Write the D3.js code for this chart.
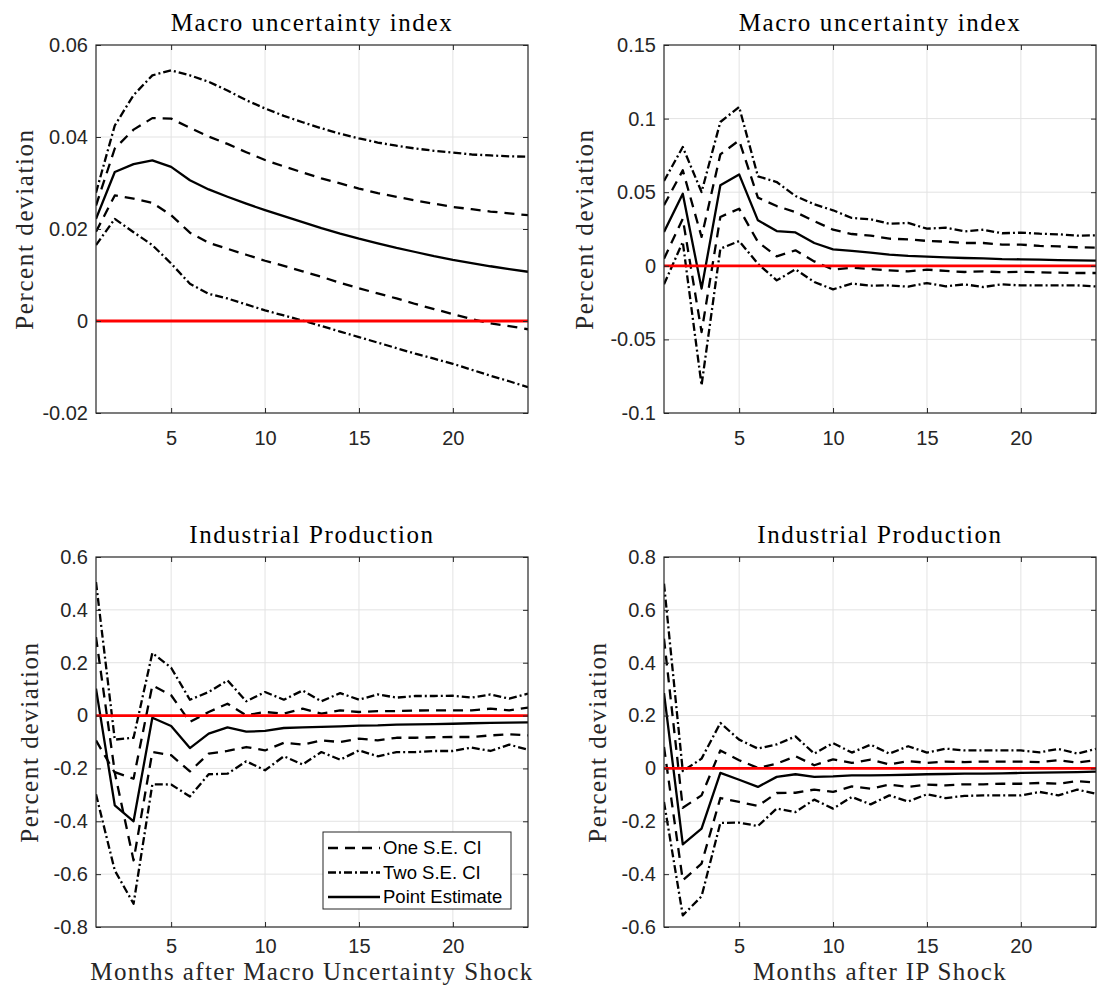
<!DOCTYPE html>
<html>
<head>
<meta charset="utf-8">
<script src="https://cdn.jsdelivr.net/npm/d3@7"></script>
<style>
  body { margin: 0; background: #fff; }
  .serif { font-family: "Liberation Serif", "Times New Roman", serif; fill: #262626; }
  .tick text { font-family: "Liberation Sans", Arial, sans-serif; font-size: 20px; fill: #262626; }
  .legend text { font-family: "Liberation Sans", Arial, sans-serif; font-size: 18.5px; fill: #000; }
</style>
</head>
<body>
<script>
var width = 1104,
    height = 990;

// months after shock
var months = [1, 2, 3, 4, 5, 6, 7, 8, 9, 10, 11, 12, 13, 14, 15, 16, 17, 18, 19, 20, 21, 22, 23, 24];
var xTicks = [5, 10, 15, 20];

// --- Macro uncertainty index, macro uncertainty shock (top left)
var muPoint  = [0.0222, 0.0324, 0.0341, 0.0349, 0.0335, 0.0306, 0.0286, 0.0270, 0.0255, 0.0241, 0.0228, 0.0215, 0.0202, 0.0190, 0.0179, 0.0169, 0.0159, 0.0150, 0.0141, 0.0133, 0.0126, 0.0119, 0.0113, 0.0107];
var muUp1    = [0.0251, 0.0375, 0.0416, 0.0441, 0.0440, 0.0420, 0.0401, 0.0385, 0.0367, 0.0350, 0.0336, 0.0323, 0.0310, 0.0299, 0.0288, 0.0278, 0.0270, 0.0262, 0.0255, 0.0248, 0.0243, 0.0238, 0.0234, 0.0230];
var muLo1    = [0.0194, 0.0273, 0.0266, 0.0257, 0.0230, 0.0192, 0.0170, 0.0157, 0.0144, 0.0131, 0.0120, 0.0108, 0.0096, 0.0083, 0.0071, 0.0060, 0.0049, 0.0037, 0.0026, 0.0015, 0.0004, -0.0005, -0.0011, -0.0018];
var muUp2    = [0.0279, 0.0425, 0.0491, 0.0534, 0.0545, 0.0534, 0.0520, 0.0501, 0.0480, 0.0462, 0.0446, 0.0432, 0.0419, 0.0407, 0.0397, 0.0388, 0.0381, 0.0375, 0.0370, 0.0366, 0.0362, 0.0360, 0.0358, 0.0357];
var muLo2    = [0.0165, 0.0222, 0.0193, 0.0165, 0.0125, 0.0081, 0.0059, 0.0049, 0.0036, 0.0023, 0.0012, 0.0001, -0.0011, -0.0023, -0.0035, -0.0047, -0.0059, -0.0071, -0.0082, -0.0093, -0.0106, -0.0119, -0.0131, -0.0144];
var muTicks  = [-0.02, 0, 0.02, 0.04, 0.06];

// --- Macro uncertainty index, IP shock (top right)
var muIpPoint = [0.023, 0.049, -0.0155, 0.0547, 0.0621, 0.0309, 0.0236, 0.0227, 0.0155, 0.0112, 0.0101, 0.0089, 0.0076, 0.0067, 0.0062, 0.0057, 0.0053, 0.0051, 0.0046, 0.0044, 0.0042, 0.0039, 0.0037, 0.0035];
var muIpUp1   = [0.0411, 0.0649, 0.0196, 0.0757, 0.0852, 0.0463, 0.0406, 0.0365, 0.0304, 0.0245, 0.0216, 0.0205, 0.0184, 0.0180, 0.0169, 0.0164, 0.0155, 0.0155, 0.0144, 0.0144, 0.0135, 0.0132, 0.0126, 0.0123];
var muIpLo1   = [0.0048, 0.032, -0.045, 0.0332, 0.0388, 0.0162, 0.0064, 0.0105, 0.003, -0.0026, -0.0013, -0.0022, -0.0031, -0.0038, -0.0026, -0.0035, -0.0042, -0.0038, -0.0044, -0.004, -0.0044, -0.0047, -0.0049, -0.0049];
var muIpUp2   = [0.0576, 0.0807, 0.0501, 0.0977, 0.1079, 0.0608, 0.0569, 0.0474, 0.0418, 0.0377, 0.0325, 0.0316, 0.0286, 0.0291, 0.0252, 0.0259, 0.0234, 0.0245, 0.0221, 0.0225, 0.0218, 0.0214, 0.0205, 0.0207];
var muIpLo2   = [-0.0126, 0.0162, -0.0812, 0.0116, 0.0168, 0.0014, -0.0099, -0.0024, -0.011, -0.016, -0.0121, -0.0135, -0.0133, -0.0142, -0.0117, -0.014, -0.0126, -0.0144, -0.0126, -0.0133, -0.0133, -0.0133, -0.0133, -0.014];
var muIpTicks = [-0.1, -0.05, 0, 0.05, 0.1, 0.15];

// --- Industrial production, macro uncertainty shock (bottom left)
var ipPoint = [0.102, -0.34, -0.40, -0.008, -0.0395, -0.123, -0.068, -0.045, -0.061, -0.058, -0.047, -0.045, -0.043, -0.041, -0.038, -0.037, -0.034, -0.033, -0.032, -0.031, -0.029, -0.028, -0.027, -0.026];
var ipUp1   = [0.297, -0.214, -0.239, 0.114, 0.077, -0.024, 0.0135, 0.045, 0.001, 0.0135, 0.007, 0.026, 0.007, 0.020, 0.0135, 0.017, 0.017, 0.019, 0.020, 0.020, 0.020, 0.026, 0.020, 0.030];
var ipLo1   = [-0.094, -0.216, -0.548, -0.138, -0.150, -0.211, -0.144, -0.134, -0.119, -0.132, -0.103, -0.110, -0.094, -0.100, -0.087, -0.094, -0.084, -0.084, -0.082, -0.081, -0.081, -0.075, -0.071, -0.075];
var ipUp2   = [0.505, -0.091, -0.084, 0.237, 0.181, 0.060, 0.089, 0.133, 0.054, 0.089, 0.060, 0.095, 0.054, 0.085, 0.060, 0.080, 0.068, 0.074, 0.074, 0.075, 0.068, 0.080, 0.064, 0.083];
var ipLo2   = [-0.298, -0.586, -0.712, -0.260, -0.261, -0.306, -0.222, -0.220, -0.173, -0.207, -0.154, -0.185, -0.138, -0.167, -0.132, -0.154, -0.138, -0.138, -0.134, -0.134, -0.121, -0.134, -0.110, -0.129];
var ipTicks = [-0.8, -0.6, -0.4, -0.2, 0, 0.2, 0.4, 0.6];

// --- Industrial production, IP shock (bottom right)
var ipIpPoint = [0.285, -0.287, -0.228, -0.017, -0.043, -0.070, -0.032, -0.022, -0.032, -0.030, -0.026, -0.026, -0.025, -0.024, -0.022, -0.021, -0.020, -0.020, -0.019, -0.017, -0.016, -0.015, -0.014, -0.012];
var ipIpUp1   = [0.491, -0.149, -0.102, 0.068, 0.031, 0.002, 0.018, 0.046, 0.012, 0.034, 0.021, 0.033, 0.015, 0.028, 0.021, 0.026, 0.024, 0.026, 0.026, 0.026, 0.024, 0.031, 0.022, 0.031];
var ipIpLo1   = [0.081, -0.4235, -0.360, -0.112, -0.127, -0.142, -0.093, -0.092, -0.080, -0.089, -0.068, -0.077, -0.061, -0.070, -0.061, -0.064, -0.060, -0.060, -0.058, -0.058, -0.055, -0.058, -0.048, -0.054];
var ipIpUp2   = [0.699, -0.010, 0.037, 0.172, 0.109, 0.075, 0.091, 0.121, 0.056, 0.096, 0.060, 0.090, 0.056, 0.084, 0.060, 0.075, 0.068, 0.068, 0.068, 0.068, 0.061, 0.074, 0.056, 0.074];
var ipIpLo2   = [-0.127, -0.556, -0.484, -0.2065, -0.205, -0.218, -0.152, -0.165, -0.118, -0.152, -0.108, -0.136, -0.102, -0.125, -0.098, -0.112, -0.104, -0.102, -0.102, -0.102, -0.089, -0.102, -0.080, -0.096];
var ipIpTicks = [-0.6, -0.4, -0.2, 0, 0.2, 0.4, 0.6, 0.8];

var legendLabels = ["One S.E. CI", "Two S.E. CI", "Point Estimate"];

var dashed = "10,7",
    dashDot = "8,3,2,3";

var pw = 432;   // plot width

var panels = [
  { left: 96,  top: 45,  h: 368, title: "Macro uncertainty index", yDomain: [-0.02, 0.06], yTicks: muTicks,
    point: muPoint, up1: muUp1, lo1: muLo1, up2: muUp2, lo2: muLo2, ylabX: 33, xpad: 18 },
  { left: 664, top: 45,  h: 368, title: "Macro uncertainty index", yDomain: [-0.1, 0.15], yTicks: muIpTicks,
    point: muIpPoint, up1: muIpUp1, lo1: muIpLo1, up2: muIpUp2, lo2: muIpLo2, ylabX: 593, xpad: 18 },
  { left: 96,  top: 557, h: 370, title: "Industrial Production", yDomain: [-0.8, 0.6], yTicks: ipTicks,
    point: ipPoint, up1: ipUp1, lo1: ipLo1, up2: ipUp2, lo2: ipLo2, ylabX: 38, xpad: 12,
    xlabel: "Months after Macro Uncertainty Shock", legend: true },
  { left: 664, top: 557, h: 370, title: "Industrial Production", yDomain: [-0.6, 0.8], yTicks: ipIpTicks,
    point: ipIpPoint, up1: ipIpUp1, lo1: ipIpLo1, up2: ipIpUp2, lo2: ipIpLo2, ylabX: 606, xpad: 12,
    xlabel: "Months after IP Shock" }
];

var svg = d3.select("body").append("svg")
    .attr("width", width)
    .attr("height", height);

function fmt(d) { return String(+d.toFixed(3)); }

function drawPanel(p, i) {
  var h = p.h;
  var x = d3.scaleLinear().domain([1, 24]).range([0, pw]);
  var y = d3.scaleLinear().domain(p.yDomain).range([h, 0]);

  var g = svg.append("g").attr("transform", "translate(" + p.left + "," + p.top + ")");

  svg.append("clipPath").attr("id", "clip" + i)
    .append("rect").attr("width", pw).attr("height", h);

  // grid
  var grid = g.append("g").attr("class", "grid");
  grid.selectAll("line.gx")
    .data(xTicks)
    .enter().append("line")
    .attr("x1", d => x(d)).attr("x2", d => x(d))
    .attr("y1", 0).attr("y2", h)
    .style("stroke", "#e3e3e3").style("stroke-width", 1);
  grid.selectAll("line.gy")
    .data(p.yTicks.slice(1, -1))
    .enter().append("line")
    .attr("x1", 0).attr("x2", pw)
    .attr("y1", d => y(d)).attr("y2", d => y(d))
    .style("stroke", "#e3e3e3").style("stroke-width", 1);

  var line = d3.line()
    .x(function(d, j) { return x(months[j]); })
    .y(function(d) { return y(d); });

  var series = [
    { v: p.up2, dash: dashDot },
    { v: p.up1, dash: dashed },
    { v: p.lo1, dash: dashed },
    { v: p.lo2, dash: dashDot },
    { v: p.point, dash: null }
  ];

  var plot = g.append("g").attr("clip-path", "url(#clip" + i + ")");
  plot.selectAll("path.irf")
    .data(series)
    .enter().append("path")
    .attr("class", "irf")
    .attr("d", d => line(d.v))
    .style("fill", "none")
    .style("stroke", "#000")
    .style("stroke-width", 2.3)
    .style("stroke-linejoin", "round")
    .style("stroke-dasharray", d => d.dash);

  // zero line
  plot.append("line")
    .attr("x1", 0).attr("x2", pw)
    .attr("y1", y(0)).attr("y2", y(0))
    .style("stroke", "#ff0000")
    .style("stroke-width", 2.8);

  // axes, ticks pointing inward like matlab
  var axB = g.append("g").attr("transform", "translate(0," + h + ")")
    .call(d3.axisBottom(x).tickValues(xTicks).tickSizeInner(-5).tickSizeOuter(0).tickPadding(p.xpad).tickFormat(fmt));
  var axT = g.append("g")
    .call(d3.axisTop(x).tickValues(xTicks).tickSizeInner(-5).tickSizeOuter(0).tickFormat(""));
  var axL = g.append("g")
    .call(d3.axisLeft(y).tickValues(p.yTicks).tickSizeInner(-5).tickSizeOuter(0).tickPadding(8).tickFormat(fmt));
  var axR = g.append("g").attr("transform", "translate(" + pw + ",0)")
    .call(d3.axisRight(y).tickValues(p.yTicks).tickSizeInner(-5).tickSizeOuter(0).tickFormat(""));

  [axB, axT, axL, axR].forEach(function(a) {
    a.select(".domain").remove();
    a.selectAll(".tick line").style("stroke", "#262626");
    a.attr("font-size", null).attr("font-family", null);
  });

  g.append("rect")
    .attr("width", pw).attr("height", h)
    .style("fill", "none")
    .style("stroke", "#262626")
    .style("stroke-width", 1.2);

  // title
  g.append("text")
    .attr("class", "serif")
    .attr("x", pw / 2)
    .attr("y", -14)
    .attr("text-anchor", "middle")
    .style("font-size", "25px")
    .style("letter-spacing", "1.6px")
    .style("fill", "#000")
    .text(p.title);

  // y label
  svg.append("text")
    .attr("class", "serif")
    .attr("transform", "translate(" + p.ylabX + "," + (p.top + h / 2) + ") rotate(-90)")
    .attr("text-anchor", "middle")
    .style("font-size", "25px")
    .style("letter-spacing", "1.6px")
    .text("Percent deviation");

  if (p.xlabel) {
    g.append("text")
      .attr("class", "serif")
      .attr("x", pw / 2)
      .attr("y", h + 53)
      .attr("text-anchor", "middle")
      .style("font-size", "25px")
      .style("letter-spacing", "1.4px")
      .text(p.xlabel);
  }

  if (p.legend) {
    var lg = g.append("g").attr("class", "legend")
      .attr("transform", "translate(227,275)");
    lg.append("rect")
      .attr("width", 188).attr("height", 77)
      .style("fill", "#fff")
      .style("stroke", "#262626")
      .style("stroke-width", 1);
    var items = lg.selectAll("g.item")
      .data(legendLabels)
      .enter().append("g")
      .attr("class", "item")
      .attr("transform", function(d, j) { return "translate(0," + (16 + j * 24.5) + ")"; });
    items.append("line")
      .attr("x1", 5).attr("x2", 57)
      .style("stroke", "#000")
      .style("stroke-width", 2.3)
      .style("stroke-dasharray", function(d, j) { return [dashed, dashDot, null][j]; });
    items.append("text")
      .attr("x", 60)
      .attr("dy", "0.35em")
      .text(d => d);
  }
}

panels.forEach(drawPanel);
</script>
</body>
</html>
